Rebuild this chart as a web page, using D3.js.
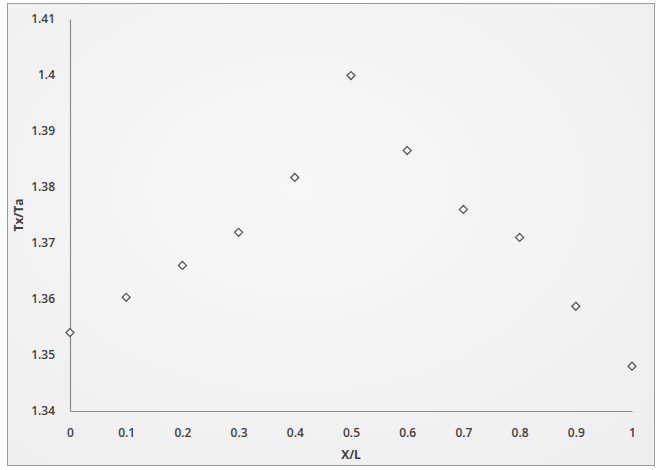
<!DOCTYPE html>
<html>
<head>
<meta charset="utf-8">
<script src="https://cdn.jsdelivr.net/npm/d3@7"></script>
<style>
  body { margin: 0; background: #fff; }
  svg { display: block; }
  text { font-family: "Open Sans", "Liberation Sans", sans-serif; fill: #404040; }
</style>
</head>
<body>
<div id="chart"></div>
<script>
const xValues = [0, 0.1, 0.2, 0.3, 0.4, 0.5, 0.6, 0.7, 0.8, 0.9, 1];
const yValues = [1.354, 1.3603, 1.366, 1.3719, 1.3817, 1.3999, 1.3865, 1.376, 1.371, 1.3587, 1.348];
const xTicks = [0, 0.1, 0.2, 0.3, 0.4, 0.5, 0.6, 0.7, 0.8, 0.9, 1];
const yTicks = [1.34, 1.35, 1.36, 1.37, 1.38, 1.39, 1.4, 1.41];

const width = 657, height = 470;
const margin = { top: 19, right: 25, bottom: 59, left: 70 };

const svg = d3.select("#chart").append("svg")
  .attr("width", width)
  .attr("height", height);

// background with a light gradient
const defs = svg.append("defs");
const grad = defs.append("radialGradient").attr("id", "bg")
  .attr("cx", "45%").attr("cy", "40%").attr("r", "75%");
grad.append("stop").attr("offset", "0%").attr("stop-color", "#f8f8f8");
grad.append("stop").attr("offset", "100%").attr("stop-color", "#efefef");

svg.append("rect")
  .attr("x", 7.5).attr("y", 3.5)
  .attr("width", 647).attr("height", 462)
  .attr("fill", "url(#bg)")
  .attr("stroke", "#9a9a9a");

const x = d3.scaleLinear()
  .domain([0, 1])
  .range([margin.left, width - margin.right]);

const y = d3.scaleLinear()
  .domain([1.34, 1.41])
  .range([height - margin.bottom, margin.top]);

// axes
const xAxis = d3.axisBottom(x).tickValues(xTicks).tickSize(0).tickPadding(17)
  .tickFormat(d => d3.format("")(d));
const yAxis = d3.axisLeft(y).tickValues(yTicks).tickSize(0).tickPadding(15)
  .tickFormat(d => d3.format("")(+d.toFixed(2)));

const gx = svg.append("g")
  .attr("transform", `translate(0,${y(1.34)})`)
  .call(xAxis);
const gy = svg.append("g")
  .attr("transform", `translate(${x(0)},0)`)
  .call(yAxis);

[gx, gy].forEach(g => {
  g.select(".domain").attr("stroke", "#8c8c8c").attr("stroke-width", 1.2);
  g.selectAll("text")
    .attr("font-size", "12px")
    .attr("font-weight", "600")
    .attr("fill", "#404040");
});

// points
const diamond = d3.symbol().type(d3.symbolDiamond2).size(40);
svg.append("g")
  .selectAll("path")
  .data(xValues.map((d, i) => [d, yValues[i]]))
  .join("path")
  .attr("transform", d => `translate(${x(d[0])},${y(d[1])})`)
  .attr("d", diamond)
  .attr("fill", "#fafafa")
  .attr("stroke", "#555")
  .attr("stroke-width", 1.3);

// axis titles
svg.append("text")
  .attr("x", x(0.5))
  .attr("y", 459)
  .attr("text-anchor", "middle")
  .attr("font-size", "12px")
  .attr("font-weight", "bold")
  .text("X/L");

svg.append("text")
  .attr("transform", `translate(23,${y(1.375)}) rotate(-90)`)
  .attr("text-anchor", "middle")
  .attr("font-size", "12px")
  .attr("font-weight", "bold")
  .text("Tx/Ta");
</script>
</body>
</html>
